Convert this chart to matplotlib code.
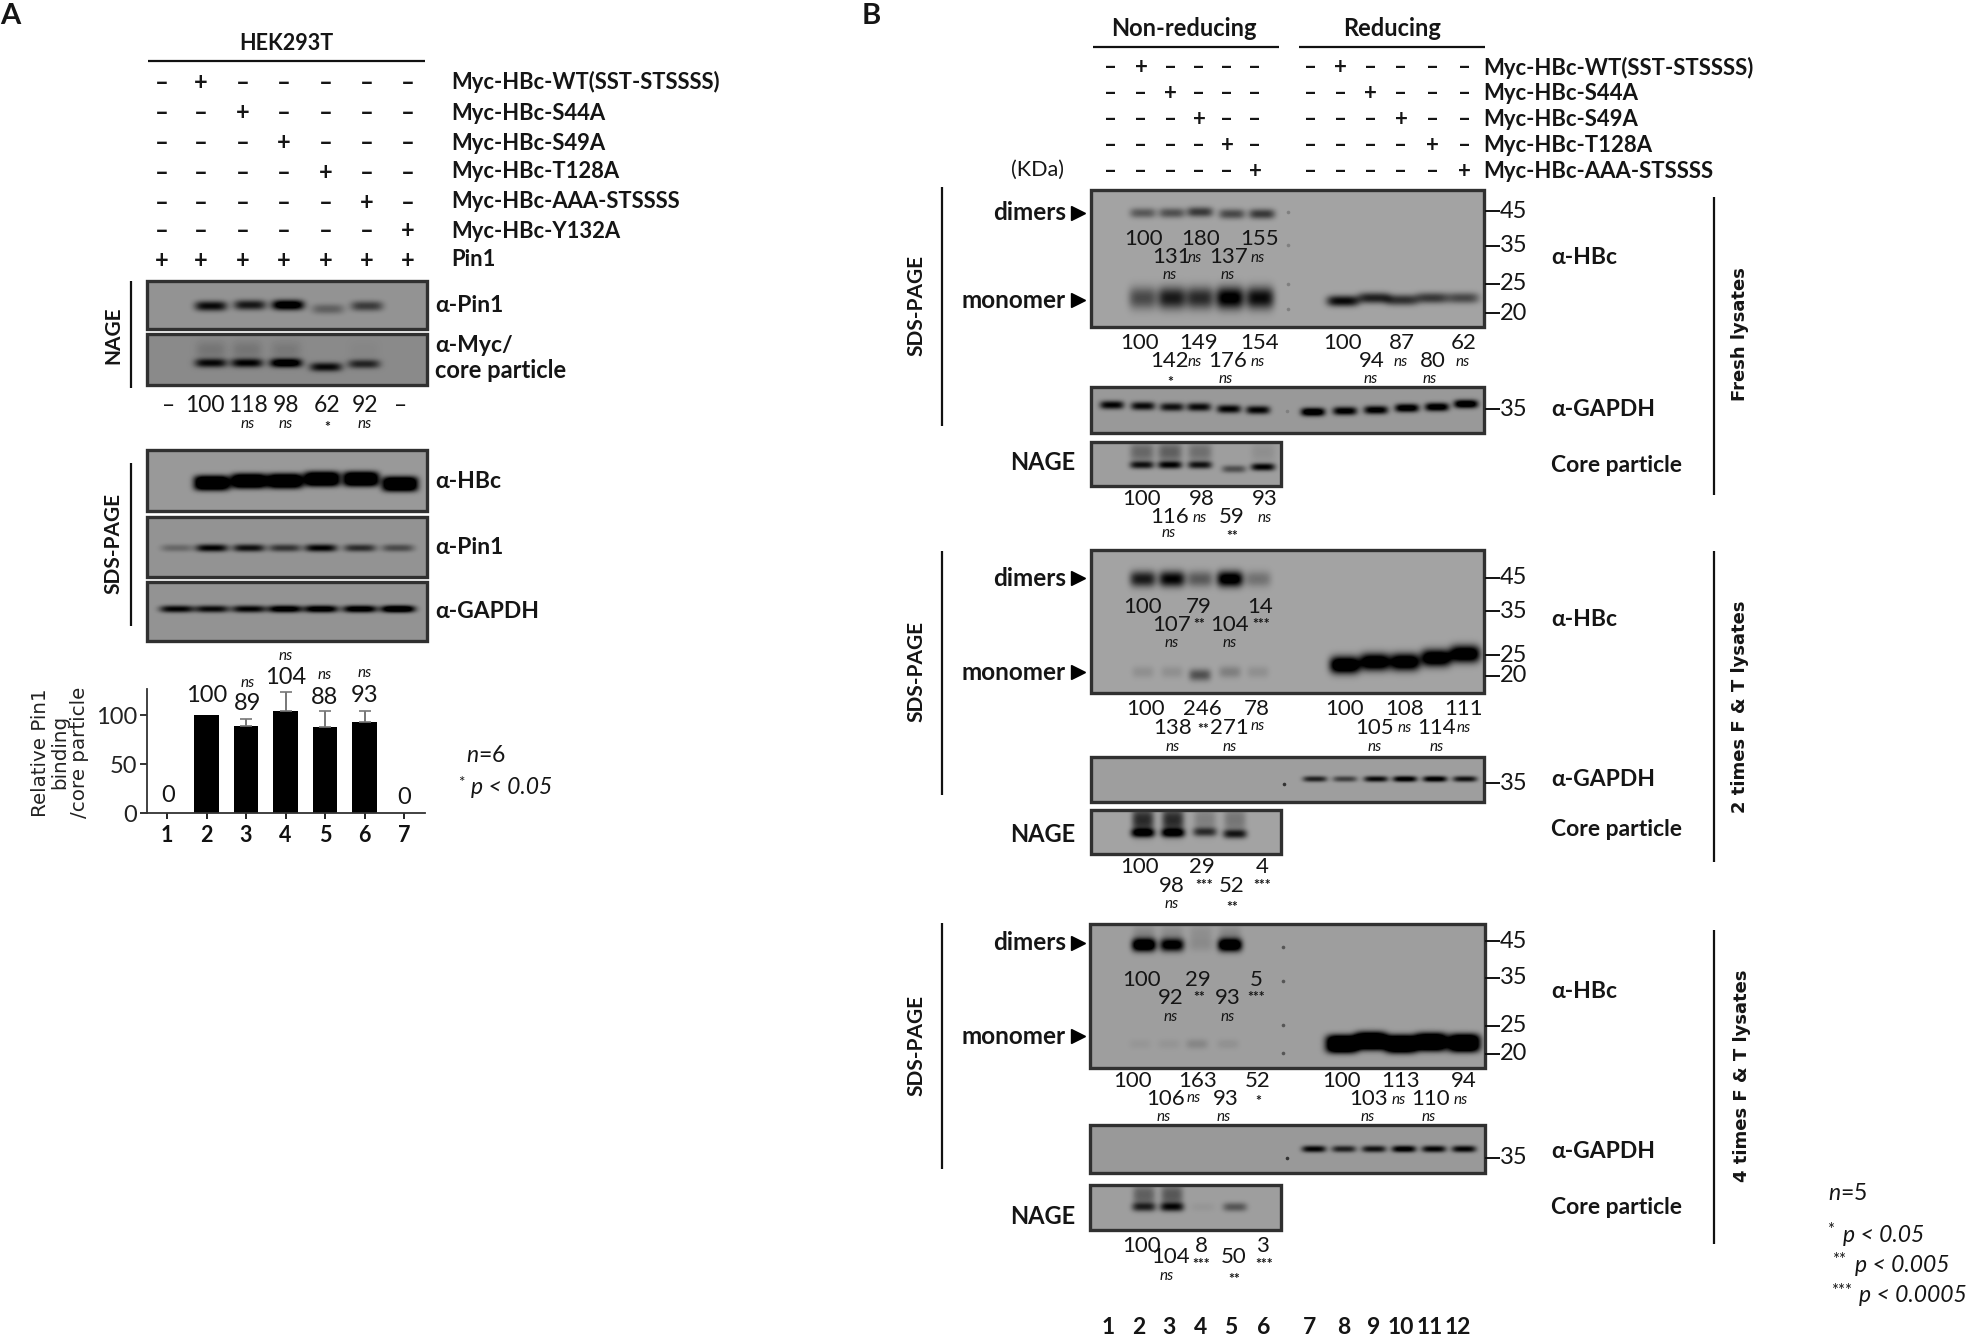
import numpy as np
import matplotlib
matplotlib.use('Agg')
import matplotlib.pyplot as plt
from matplotlib.patches import Rectangle

plt.rcParams['font.family'] = ['Lato', 'DejaVu Sans']
plt.rcParams['mathtext.fontset'] = 'custom'
plt.rcParams['mathtext.it'] = 'Lato:italic'
plt.rcParams['mathtext.rm'] = 'Lato'

W, H = 1973, 1339

# ---- panel A values
a_constructs = ['Myc-HBc-WT(SST-STSSSS)', 'Myc-HBc-S44A', 'Myc-HBc-S49A', 'Myc-HBc-T128A',
                'Myc-HBc-AAA-STSSSS', 'Myc-HBc-Y132A', 'Pin1']
a_plus = [[2], [3], [4], [5], [6], [7], [1, 2, 3, 4, 5, 6, 7]]
a_nage_pin1 = [0.95, 0.85, 1.3, 0.35, 0.6]
a_nage_core = [0.95, 1.0, 1.3, 0.95, 0.75]
a_core_smear = [0.15, 0.15, 0.12, 0.0, 0.03]
a_sds_hbc = [1.6, 1.6, 1.6, 1.6, 1.6, 1.6]
a_sds_pin1 = [0.3, 1.0, 0.9, 0.65, 1.0, 0.7, 0.5]
a_sds_gapdh = [1.0, 0.95, 1.0, 1.2, 1.2, 1.2, 1.4]
a_nage_vals = ['–', '100', '118', '98', '62', '92', '–']
a_nage_sig = ['', '', 'ns', 'ns', '*', 'ns', '']

bar_lanes = [1, 2, 3, 4, 5, 6, 7]
bar_vals = [0, 100, 89, 104, 88, 93, 0]
bar_err = [0, 0, 7, 20, 16, 11, 0]
bar_sig = ['', '', 'ns', 'ns', 'ns', 'ns', '']

# ---- panel B values
b_constructs = ['Myc-HBc-WT(SST-STSSSS)', 'Myc-HBc-S44A', 'Myc-HBc-S49A', 'Myc-HBc-T128A', 'Myc-HBc-AAA-STSSSS']
b_active = [2, 3, 4, 5, 6]
kda_ticks = ['45', '35', '25', '20']
b_lane_labels = ['1', '2', '3', '4', '5', '6', '7', '8', '9', '10', '11', '12']

fresh_dimer = [0.45, 0.5, 0.65, 0.55, 0.65]
fresh_mono = [0.55, 0.85, 0.75, 1.1, 0.95]
fresh_red = [0.95, 0.8, 0.7, 0.65, 0.55]
fresh_gapdh = [1.0, 0.95, 0.9, 0.95, 1.0, 1.0, 1.3, 1.1, 1.1, 1.2, 1.2, 1.3]
fresh_nage = [0.85, 0.95, 0.85, 0.5, 1.0]
fresh_smear = [0.35, 0.4, 0.3, 0.0, 0.1]

ft2_dimer = [0.85, 1.0, 0.45, 1.2, 0.3]
ft2_mono = [0.12, 0.12, 0.5, 0.22, 0.12]
ft2_red = [1.5, 1.4, 1.4, 1.4, 1.4]
ft2_gapdh = [0.8, 0.6, 0.95, 1.1, 1.1, 0.9]
ft2_nage = [1.0, 1.0, 0.65, 0.8]
ft2_smear = [0.75, 0.75, 0.22, 0.28]

ft4_dimer = [1.5, 1.2, 0.1, 1.5]
ft4_mono = [0.05, 0.06, 0.15, 0.08]
ft4_red = [1.8, 1.8, 1.8, 1.8, 1.8]
ft4_gapdh = [1.0, 0.8, 0.9, 1.1, 1.0, 1.0]
ft4_nage = [0.7, 0.85, 0.05, 0.45]
ft4_smear = [0.4, 0.45, 0.0, 0.0]

# each stats list goes high row, low row, high row ... along the lanes
st_fresh_dimer = (['100', '131', '180', '137', '155'], ['', 'ns', 'ns', 'ns', 'ns'])
st_fresh_mono = (['100', '142', '149', '176', '154'], ['', '*', 'ns', 'ns', 'ns'])
st_fresh_red = (['100', '94', '87', '80', '62'], ['', 'ns', 'ns', 'ns', 'ns'])
st_fresh_nage = (['100', '116', '98', '59', '93'], ['', 'ns', 'ns', '**', 'ns'])
st_ft2_dimer = (['100', '107', '79', '104', '14'], ['', 'ns', '**', 'ns', '***'])
st_ft2_mono = (['100', '138', '246', '271', '78'], ['', 'ns', '**', 'ns', 'ns'])
st_ft2_red = (['100', '105', '108', '114', '111'], ['', 'ns', 'ns', 'ns', 'ns'])
st_ft2_nage = (['100', '98', '29', '52', '4'], ['', 'ns', '***', '**', '***'])
st_ft4_dimer = (['100', '92', '29', '93', '5'], ['', 'ns', '**', 'ns', '***'])
st_ft4_mono = (['100', '106', '163', '93', '52'], ['', 'ns', 'ns', 'ns', '*'])
st_ft4_red = (['100', '103', '113', '110', '94'], ['', 'ns', 'ns', 'ns', 'ns'])
st_ft4_nage = (['100', '104', '8', '50', '3'], ['', 'ns', '***', '**', '***'])

fig = plt.figure(figsize=(W / 100, H / 100), dpi=100, facecolor='white')
ax = fig.add_axes([0, 0, 1, 1])
ax.set_autoscale_on(False)
ax.set_xlim(0, W)
ax.set_ylim(H, 0)
ax.axis('off')


def put(x, y, s, size=16, weight='normal', ha='center', **kw):
    ax.text(x, y, s, fontsize=size, fontweight=weight, ha=ha, va='center', color='#151515', **kw)


def line(x0, y0, x1, y1, lw=1.6):
    ax.plot([x0, x1], [y0, y1], color='#111111', lw=lw, solid_capstyle='butt')


def sig(x, y, s):
    if s == 'ns':
        put(x, y, s, size=11, style='italic', zorder=4)
    elif s:
        put(x, y + 3, s, size=10, weight='bold', zorder=4)


def band(xs, ys, vals, w, sy, ex=4, ey=2.2):
    out = []
    for x, y, v in zip(xs, ys, vals):
        out.append((x, y, v, w, sy, ex, ey))
    return out


def blot(box, bands, bg=0.6, dots=(), dot_color='#555555'):
    x0, y0, x1, y1 = box
    gx, gy = np.meshgrid(np.arange(x0, x1) + 0.5, np.arange(y0, y1) + 0.5)
    dark = np.zeros_like(gx, dtype=float)
    for x, y, v, w, sy, ex, ey in bands:
        dark += v * np.exp(-np.abs((gx - x) / w) ** ex) * np.exp(-np.abs((gy - y) / sy) ** ey)
    img = bg * (1 - np.clip(dark, 0, 1))
    ax.imshow(img, extent=(x0, x1, y1, y0), cmap='gray', vmin=0, vmax=1, aspect='auto',
              interpolation='bilinear', zorder=1)
    ax.add_patch(Rectangle((x0, y0), x1 - x0, y1 - y0, fill=False, ec='#303030', lw=2.4, zorder=2))
    for dx, dy in dots:
        ax.plot(dx, dy, 'o', ms=2.6, color=dot_color, mew=0, zorder=3)


def stats(block, xs, rows, sig_xs=None, size=16):
    # rows = y of high row, low row, sig beside the high row, sig under the low row
    vals, marks = block
    sig_xs = sig_xs or xs
    for i, (v, m) in enumerate(zip(vals, marks)):
        hi = i % 2 == 0
        put(xs[i], rows[0] if hi else rows[1], v, size=size, zorder=4)
        sig(sig_xs[i], rows[2] if hi else rows[3], m)


# ---- panel A
put(0, 16, 'A', size=21, weight='bold', ha='left')
put(286, 43, 'HEK293T', size=15.5, weight='bold')
line(148, 61, 425, 61)
a_lanes = [162, 201, 243, 284, 326, 367, 408]
a_rows = [82, 113, 143, 172, 202, 231, 260]
for label, plus, y in zip(a_constructs, a_plus, a_rows):
    put(451, y, label, size=15.8, weight='bold', ha='left')
    for i, x in enumerate(a_lanes):
        put(x, y, '+' if i + 1 in plus else '–', size=17, weight='bold')

blot((147, 281, 427, 329),
     band([211, 250, 288, 328, 367], [306, 305, 305, 309, 306], a_nage_pin1, 16, 5), bg=0.58)
x_core = [211, 247, 286, 326, 364]
blot((147, 334, 427, 385),
     band(x_core, [363, 363, 363, 367, 364], a_nage_core, 16, 4.5)
     + band(x_core, [350] * 5, a_core_smear, 15, 9), bg=0.54)
line(131, 281, 131, 388)
put(113, 335, 'NAGE', size=15, weight='bold', rotation=90)
put(435, 306, 'α-Pin1', size=16.5, weight='bold', ha='left')
put(435, 346, 'α-Myc/', size=16.5, weight='bold', ha='left')
put(435, 370, 'core particle', size=17, weight='bold', ha='left')
x_vals = [169, 205, 248, 286, 327, 365, 401]
for x, v, m in zip(x_vals, a_nage_vals, a_nage_sig):
    put(x, 406, v, size=16.5)
    sig(x, 424, m)

blot((147, 450, 427, 511),
     band([212, 249, 285, 322, 361, 400], [483, 481, 481, 479, 479, 484], a_sds_hbc, 18, 7.5, ex=5, ey=3), bg=0.6)
x_sds = [177, 212, 249, 285, 321, 360, 398]
blot((147, 517, 427, 577), band(x_sds, [548] * 7, a_sds_pin1, 16, 3.8), bg=0.58)
blot((147, 582, 427, 641), band(x_sds, [609] * 7, a_sds_gapdh, 17, 3.6), bg=0.58)
line(131, 463, 131, 626)
put(113, 543, 'SDS-PAGE', size=15, weight='bold', rotation=90)
put(435, 481, 'α-HBc', size=16.5, weight='bold', ha='left')
put(435, 547, 'α-Pin1', size=16.5, weight='bold', ha='left')
put(435, 611, 'α-GAPDH', size=16.5, weight='bold', ha='left')

# bar chart, real axes placed on the pixel layout
bx = fig.add_axes([147 / W, 1 - 813 / H, 278 / W, 124 / H])
bx.patch.set_alpha(0)
bx.bar(bar_lanes, bar_vals, width=0.63, color='black')
bx.errorbar(bar_lanes[2:6], bar_vals[2:6], yerr=[np.zeros(4), bar_err[2:6]], fmt='none',
            ecolor='#777777', elinewidth=1.4, capsize=4, capthick=1.2)
bx.set_xlim(0.494, 7.53)
bx.set_ylim(0, 127)
bx.set_yticks([0, 50, 100])
bx.set_xticks(bar_lanes)
bx.tick_params(axis='y', labelsize=17, length=5, width=1.3, pad=2, colors='#222222')
bx.tick_params(axis='x', labelsize=15.5, length=4, width=1.3, pad=5, colors='#111111')
for t in bx.get_xticklabels():
    t.set_fontweight('bold')
for s in ['top', 'right']:
    bx.spines[s].set_visible(False)
for s in ['left', 'bottom']:
    bx.spines[s].set_linewidth(1.3)
    bx.spines[s].set_color('#333333')
bx.set_ylabel('Relative Pin1\nbinding\n/core particle', fontsize=14.3, family='DejaVu Sans', va='center',
              ha='center', linespacing=1.05, color='#222222')
bx.yaxis.set_label_coords(-0.313, 0.49)

bar_label_y = [795, 696, 703, 678, 697, 696, 797]
bar_sig_y = [0, 0, 683, 656, 675, 673, 0]
x_bar = [168, 207, 248, 286, 325, 365, 404]
for x, v, yl, m, ys in zip(x_bar, bar_vals, bar_label_y, bar_sig, bar_sig_y):
    put(x, yl, str(v), size=17, zorder=5)
    if m:
        sig(x, ys, m)
put(486, 756, r'$\mathit{n}$=6', size=16.5)
put(461, 783, "*", size=11)
put(471, 787, 'p < 0.05', size=16.5, ha='left', style='italic')

# ---- panel B
put(862, 16, 'B', size=21, weight='bold', ha='left')
put(1184, 28, 'Non-reducing', size=17, weight='bold')
put(1392, 28, 'Reducing', size=17, weight='bold')
line(1093, 47, 1279, 47)
line(1299, 47, 1485, 47)
nr_lanes = [1110, 1141, 1170, 1199, 1227, 1255]
r_lanes = [1310, 1340, 1370, 1401, 1432, 1464]
b_rows = [68, 94, 120, 145, 171]
for label, act, y in zip(b_constructs, b_active, b_rows):
    put(1483, y, label, size=15.9, weight='bold', ha='left')
    for lanes in (nr_lanes, r_lanes):
        for i, x in enumerate(lanes):
            put(x, y, '+' if i + 1 == act else '–', size=16, weight='bold')
put(1038, 170, '(KDa)', size=15.5)


def side_labels(top_y, kda_y, ga_y, ga_tick, core_y, nage_y, dimer_y, mono_y, sds):
    for t, y in zip(kda_ticks, kda_y):
        line(1485, y, 1500, y, lw=1.4)
        put(1500, y, t, size=17, ha='left')
    line(1485, ga_tick, 1500, ga_tick, lw=1.4)
    put(1500, ga_tick, '35', size=17, ha='left')
    put(1551, top_y, 'α-HBc', size=16.5, weight='bold', ha='left')
    put(1551, ga_y, 'α-GAPDH', size=16.5, weight='bold', ha='left')
    put(1551, core_y, 'Core particle', size=16.5, weight='bold', ha='left')
    put(1075, nage_y, 'NAGE', size=17, weight='bold', ha='right')
    for word, y in (('dimers', dimer_y), ('monomer', mono_y)):
        put(1066, y, word, size=17.5, weight='bold', ha='right')
        ax.plot(1078, y, '>', ms=10, color='black', zorder=3)
    line(942, sds[0], 942, sds[1])
    put(916, sds[2], 'SDS-PAGE', size=15, weight='bold', rotation=90)


def rotated(x, y0, y1, ym, s):
    line(1714, y0, 1714, y1)
    ax.text(x, ym, s, fontsize=13, fontweight='bold', family='DejaVu Sans', rotation=90,
            ha='center', va='center', color='#151515')


# fresh lysates
x_d = [1143, 1172, 1200, 1232, 1262]
x_m = [1143, 1172, 1200, 1230, 1260]
blot((1091, 190, 1484, 327),
     band(x_d, [213, 213, 212, 214, 214], fresh_dimer, 13, 5)
     + band(x_m, [298] * 5, fresh_mono, 14, 11)
     + band([1343, 1374, 1402, 1432, 1463], [301, 298, 300, 298, 298], fresh_red, 16, 5.5),
     bg=0.64, dots=[(1288, 212), (1288, 245), (1288, 284), (1288, 309)], dot_color='#808080')
blot((1091, 387, 1484, 433),
     band([1112, 1143, 1172, 1199, 1229, 1258, 1313, 1345, 1376, 1407, 1437, 1466],
          [405, 406, 407, 407, 409, 410, 412, 411, 410, 408, 407, 404], fresh_gapdh, 12, 4.2),
     bg=0.6, dots=[(1287, 411)], dot_color='#808080')
x_n = [1142, 1170, 1200, 1234, 1263]
blot((1091, 442, 1281, 486),
     band(x_n, [465, 465, 465, 469, 467], fresh_nage, 12, 3.8)
     + band(x_n, [452] * 5, fresh_smear, 12, 10), bg=0.62)
side_labels(257, [211, 246, 284, 313], 409, 409, 465, 462, 213, 300, (187, 426, 306))
stats(st_fresh_dimer, [1144, 1172, 1201, 1229, 1260], (239, 257, 258, 275), [0, 1170, 1195, 1228, 1258])
stats(st_fresh_mono, [1140, 1170, 1199, 1228, 1260], (343, 361, 362, 379), [0, 1170, 1195, 1226, 1258])
stats(st_fresh_red, [1343, 1372, 1402, 1433, 1464], (343, 361, 362, 379), [0, 1371, 1401, 1430, 1463])
stats(st_fresh_nage, [1142, 1170, 1202, 1232, 1265], (499, 517, 518, 533), [0, 1169, 1200, 1232, 1265])
rotated(1740, 197, 495, 334, 'Fresh lysates')

# 2 times F&T
x_d2 = [1143, 1172, 1200, 1230, 1258]
x_r2 = [1345, 1375, 1405, 1436, 1465]
blot((1091, 550, 1484, 693),
     band(x_d2, [579] * 5, ft2_dimer, 13, 8)
     + band(x_d2, [672, 672, 675, 672, 672], ft2_mono, 11, 6)
     + band(x_r2, [665, 662, 662, 658, 654], ft2_red, 15, 8.5), bg=0.64)
blot((1091, 757, 1484, 802),
     band([1315, 1345, 1376, 1405, 1435, 1465], [779] * 6, ft2_gapdh, 12, 3), bg=0.62, dots=[(1284, 784)], dot_color='#333333')
x_n2 = [1143, 1173, 1205, 1235]
blot((1091, 810, 1281, 854),
     band(x_n2, [833, 833, 832, 834], ft2_nage, 12, 4.5)
     + band(x_n2, [820] * 4, ft2_smear, 11, 13), bg=0.64)
side_labels(619, [578, 611, 655, 676], 780, 783, 830, 834, 578, 672, (551, 795, 672))
stats(st_ft2_dimer, [1143, 1172, 1199, 1230, 1260], (607, 625, 621, 643), [0, 1172, 1199, 1230, 1261])
stats(st_ft2_mono, [1146, 1173, 1202, 1229, 1257], (709, 728, 726, 747), [0, 1173, 1203, 1230, 1258])
stats(st_ft2_red, [1345, 1375, 1405, 1437, 1464], (709, 728, 728, 747), [0, 1375, 1405, 1437, 1464])
stats(st_ft2_nage, [1140, 1172, 1202, 1232, 1262], (867, 886, 882, 904), [0, 1172, 1204, 1232, 1262])
rotated(1740, 551, 862, 707, '2 times F & T lysates')

# 4 times F&T
x_d4 = [1144, 1172, 1201, 1230]
x_r4 = [1342, 1371, 1401, 1431, 1464]
blot((1090, 924, 1485, 1068),
     band(x_d4, [945] * 4, ft4_dimer, 12, 6.5)
     + band(x_d4, [934] * 4, [0.15, 0.12, 0.1, 0.15], 11, 9)
     + band([1140, 1169, 1197, 1228], [1044] * 4, ft4_mono, 11, 5)
     + band(x_r4, [1044, 1041, 1044, 1042, 1043], ft4_red, 16, 9, ex=4, ey=3), bg=0.62,
     dots=[(1283, 947), (1283, 981), (1283, 1025), (1283, 1053)])
blot((1090, 1125, 1485, 1173),
     band([1314, 1344, 1374, 1404, 1434, 1464], [1149] * 6, ft4_gapdh, 12, 3.4), bg=0.6, dots=[(1287, 1158)], dot_color='#333333')
x_n4 = [1144, 1172, 1203, 1235]
blot((1090, 1185, 1281, 1230),
     band(x_n4, [1207] * 4, ft4_nage, 12, 4.5)
     + band(x_n4, [1195] * 4, ft4_smear, 11, 11), bg=0.62)
side_labels(992, [941, 978, 1026, 1054], 1152, 1158, 1208, 1216, 943, 1036, (923, 1169, 1045))
stats(st_ft4_dimer, [1142, 1171, 1198, 1228, 1256], (980, 998, 994, 1017), [0, 1171, 1199, 1228, 1256])
stats(st_ft4_mono, [1133, 1166, 1198, 1226, 1258], (1081, 1099, 1098, 1117), [0, 1164, 1194, 1224, 1258])
stats(st_ft4_red, [1342, 1369, 1401, 1431, 1464], (1081, 1099, 1100, 1117), [0, 1368, 1399, 1429, 1461])
stats(st_ft4_nage, [1142, 1171, 1201, 1234, 1262], (1246, 1257, 1261, 1276), [0, 1167, 1201, 1234, 1264])
rotated(1742, 930, 1244, 1076, '4 times F & T lysates')

b_lane_x = [1108, 1139, 1169, 1201, 1231, 1264, 1310, 1344, 1374, 1401, 1430, 1458]
for x, t in zip(b_lane_x, b_lane_labels):
    put(x, 1328, t, size=16.5, weight='bold')

put(1848, 1194, r'$\mathit{n}$=5', size=16.5)
for stars, xs, xp, y, txt in (('*', 1831, 1843, 1235, 'p < 0.05'), ('**', 1839, 1855, 1265, 'p < 0.005'),
                              ('***', 1842, 1859, 1296, 'p < 0.0005')):
    put(xs, y - 5, stars, size=12)
    put(xp, y, txt, size=16.5, ha='left', style='italic')

fig.savefig('out.png', dpi=100)
